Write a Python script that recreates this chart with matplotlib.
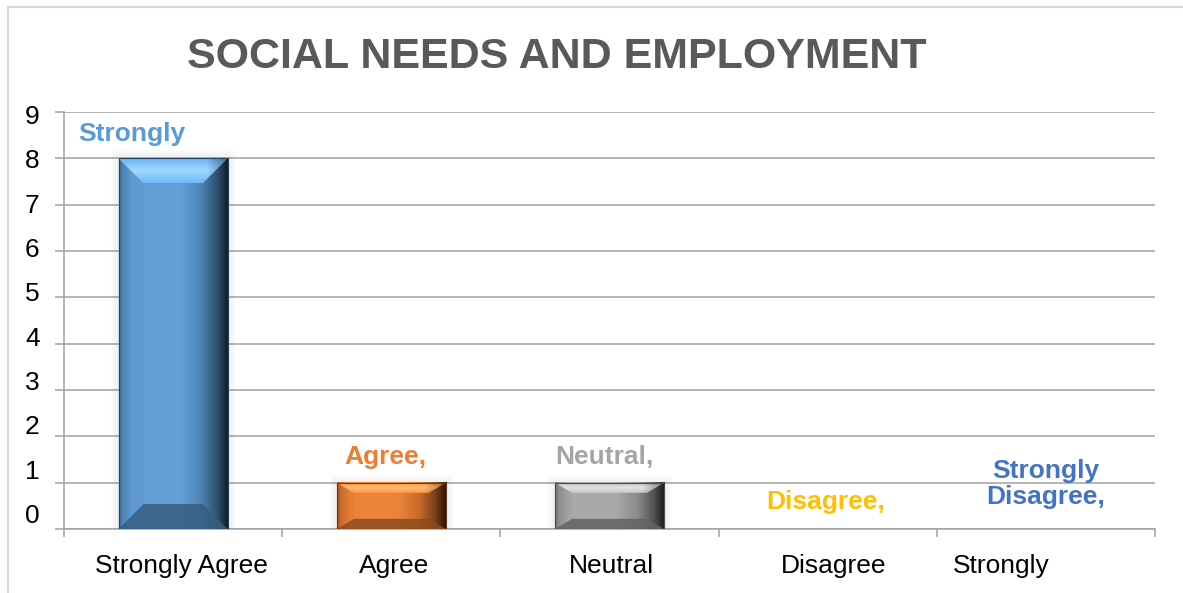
import numpy as np
import matplotlib
matplotlib.use("Agg")
import matplotlib.pyplot as plt
from matplotlib.colors import to_rgb, LinearSegmentedColormap
from matplotlib.patches import Polygon, Rectangle
from matplotlib.transforms import ScaledTranslation

# data
categories = ["Strongly Agree", "Agree", "Neutral", "Disagree", "Strongly Disagree"]
values = [8, 1, 1, 0, 0]
tick_labels = ["Strongly Agree", "Agree", "Neutral", "Disagree", "Strongly"]
value_labels = ["Strongly", "Agree,", "Neutral,", "Disagree,", "Strongly\nDisagree,"]
colors = ["#5B9BD5", "#ED7D31", "#A5A5A5", "#FFC000", "#4472C4"]

plt.rcParams['font.family'] = ['Liberation Sans', 'DejaVu Sans']


def shade(c, f):
    r = np.array(to_rgb(c))
    return tuple(np.clip(r * f, 0, 1))


def tint(c, f):
    r = np.array(to_rgb(c))
    return tuple(r + (1 - r) * f)


def bevel_bar(ax, bar, color):
    x0, w, h = bar.get_x(), bar.get_width(), bar.get_height()
    if h <= 0:
        return
    p0 = ax.transData.transform((0, 0))
    p1 = ax.transData.transform((1, 1))
    ppx, ppy = p1 - p0  # pixels per data unit
    h_px = h * ppy
    by = min(25, 0.22 * h_px) / ppy
    bx = min(25, 0.37 * h_px) / ppx
    # soft shadow
    for k in range(1, 5):
        ex, ey = 2 * k / ppx, 2 * k / ppy
        ax.add_patch(Rectangle((x0 - ex, -ey * 0.3), w + 2 * ex, h + ey * 1.3,
                               fc="#808080", ec="none", alpha=0.03, zorder=2.5))
    # horizontal body gradient
    cmap = LinearSegmentedColormap.from_list("b", [
        (0.0, shade(color, 0.6)), (0.03, shade(color, 0.85)),
        (0.12, tint(color, 0.05)), (0.55, tint(color, 0.05)),
        (0.75, shade(color, 0.85)), (0.9, shade(color, 0.5)),
        (1.0, shade(color, 0.15))])
    ax.imshow(np.linspace(0, 1, 256)[None, :], extent=(x0, x0 + w, 0, h),
              aspect="auto", cmap=cmap, zorder=3, interpolation="bilinear")
    # bevels
    top = [(x0, h), (x0 + w, h), (x0 + w - bx, h - by), (x0 + bx, h - by)]
    bot = [(x0, 0), (x0 + w, 0), (x0 + w - bx, by), (x0 + bx, by)]
    left = [(x0, 0), (x0, h), (x0 + bx, h - by), (x0 + bx, by)]
    ax.add_patch(Polygon(left, fc=shade(color, 0.85), ec="none", alpha=0.2, zorder=4))
    # top bevel: bright band, dimming toward the right corner
    vcols = LinearSegmentedColormap.from_list("t", [
        (0.0, shade(color, 1.2)), (0.5, tint(shade(color, 1.3), 0.3)),
        (1.0, shade(color, 1.15))])(np.linspace(0, 1, 32))[:, :3]
    tx = np.linspace(0, 1, 128)
    hfac = np.where(tx < 0.8, 1.0, 1.0 - 2.0 * (tx - 0.8))
    img = vcols[:, None, :] * hfac[None, :, None]
    timg = ax.imshow(np.clip(img, 0, 1), extent=(x0, x0 + w, h - by, h),
                     aspect="auto", zorder=4, origin="lower",
                     interpolation="bilinear")
    timg.set_clip_path(Polygon(top, transform=ax.transData))
    ax.add_patch(Polygon(bot, fc=shade(color, 0.6), ec="none", alpha=0.85, zorder=4))
    ax.add_patch(Rectangle((x0, 0), w, h, fill=False, ec=shade(color, 0.45),
                           lw=0.8, zorder=5))


fig = plt.figure(figsize=(11.83, 5.93), dpi=100)
ax = fig.add_axes([0.0541, 0.1079, 0.9222, 0.7032])

x = np.arange(len(categories))
bars = ax.bar(x, values, width=0.5, color=colors, zorder=3)
ax.set_xlim(-0.5, len(categories) - 0.5)
ax.set_ylim(0, 9)

for b, c in zip(bars, colors):
    bevel_bar(ax, b, c)

# data labels
label_dx = [-0.19, -0.025, -0.025, -0.008, 0.0]
label_dy = [0.52, 0.55, 0.55, 0.58, 0.97]
for i, (v, t, c) in enumerate(zip(values, value_labels, colors)):
    ax.text(x[i] + label_dx[i], v + label_dy[i], t, color=c, fontsize=19,
            fontweight="bold", ha="center", va="center", linespacing=1.15,
            zorder=6)

# grid and axes
ax.set_yticks(range(10))
ax.yaxis.grid(True, color="#a0a0a0", lw=1.1, zorder=1)
ax.set_axisbelow(True)
for s in ["top", "right"]:
    ax.spines[s].set_visible(False)
for s in ["left", "bottom"]:
    ax.spines[s].set_color("#a0a0a0")
    ax.spines[s].set_linewidth(1.1)
ax.tick_params(axis="y", length=6.5, color="#a0a0a0", width=1.1,
               labelsize=19, pad=11)
ax.set_xticks(x)
ax.set_xticklabels(tick_labels)
ax.set_xticks(np.arange(len(categories) + 1) - 0.5, minor=True)
ax.tick_params(axis="x", which="major", length=0, labelsize=19, pad=18)
ax.tick_params(axis="x", which="minor", length=6, color="#a0a0a0", width=1.1)

# nudge tick labels to match the reference placement
for lab, k in zip(ax.get_yticklabels(), range(10)):
    dy = 2 * (9 - k) - 2.5
    lab.set_transform(lab.get_transform() + ScaledTranslation(0, dy / 100, fig.dpi_scale_trans))
x_shift = [8, 3, 2, 6, -45]
for lab, dx in zip(ax.get_xticklabels(), x_shift):
    lab.set_transform(lab.get_transform() + ScaledTranslation(dx / 100, 0, fig.dpi_scale_trans))

fig.text(557 / 1183, 1 - 57 / 593, "SOCIAL NEEDS AND EMPLOYMENT", ha="center",
         va="center", fontsize=31, fontweight="bold", color="#595959")

fig.add_artist(Rectangle((8 / 1183, -0.1), 1.2, 1 - 7 / 593 + 0.1,
                         transform=fig.transFigure, fill=False,
                         ec="#d9d9d9", lw=1.5))

fig.savefig("out.png", dpi=100)
